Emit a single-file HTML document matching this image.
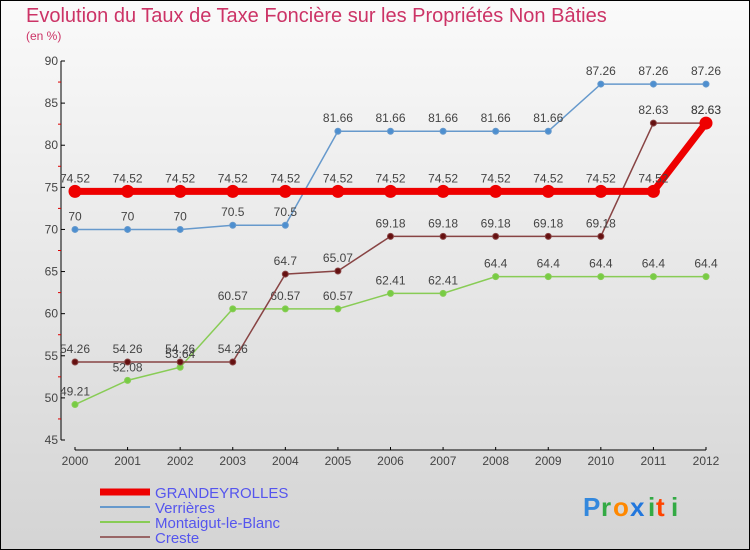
<!DOCTYPE html>
<html><head><meta charset="utf-8"><style>
body{margin:0}
svg{display:block;font-family:"Liberation Sans",sans-serif}
</style></head><body>
<svg width="750" height="550" viewBox="0 0 750 550" xmlns="http://www.w3.org/2000/svg">
<defs><linearGradient id="bg" x1="0" y1="0" x2="0" y2="1"><stop offset="0" stop-color="#fafafa"/><stop offset="1" stop-color="#d4d4d4"/></linearGradient></defs>
<rect x="0.5" y="0.5" width="749" height="549" fill="url(#bg)" stroke="#000"/>
<text x="26" y="22" font-size="20" fill="#cc3366">Evolution du Taux de Taxe Foncière sur les Propriétés Non Bâties</text>
<text x="26" y="40" font-size="12" fill="#cc3366">(en %)</text>
<g id="axes"></g>
<g id="series"></g>
<g id="legend"></g>
<g font-size="26" font-weight="bold">
<text x="583" y="516" fill="#3388dd">P</text><text x="601" y="516" fill="#33aa44">r</text><text x="613" y="516" fill="#ff8800">o</text><text x="630" y="516" fill="#2277dd">x</text><text x="648" y="516" fill="#33aa44">i</text><text x="656" y="516" fill="#ff4400">t</text><text x="671" y="516" fill="#33aa44">i</text>
</g>
</svg>
<script>
const years=[2000,2001,2002,2003,2004,2005,2006,2007,2008,2009,2010,2011,2012];
const yTicks=[45,50,55,60,65,70,75,80,85,90];
const grand=[74.52,74.52,74.52,74.52,74.52,74.52,74.52,74.52,74.52,74.52,74.52,74.52,82.63];
const verr=[70,70,70,70.5,70.5,81.66,81.66,81.66,81.66,81.66,87.26,87.26,87.26];
const mont=[49.21,52.08,53.64,60.57,60.57,60.57,62.41,62.41,64.4,64.4,64.4,64.4,64.4];
const creste=[54.26,54.26,54.26,54.26,64.7,65.07,69.18,69.18,69.18,69.18,69.18,82.63,82.63];
const NS="http://www.w3.org/2000/svg";
const xs=i=>75+i*(706-75)/12;
const ys=v=>61+(90-v)*(440-61)/45;
function mk(t,a,p){const e=document.createElementNS(NS,t);for(const k in a)e.setAttribute(k,a[k]);p.appendChild(e);return e;}
const ax=document.getElementById('axes');
let l=mk('line',{x1:61,y1:61,x2:61,y2:440,stroke:'#000'},ax);


l=mk('line',{x1:75,y1:450,x2:706,y2:450,stroke:'#000'},ax);


yTicks.forEach((v,i)=>{
 mk('line',{x1:61,y1:ys(v),x2:65,y2:ys(v),stroke:'#000'},ax);
 if(i<yTicks.length-1) mk('line',{x1:58,y1:ys(v+2.5),x2:61,y2:ys(v+2.5),stroke:'#d00'},ax);
 const t=mk('text',{x:58,y:ys(v)+4,'font-size':12,fill:'#444','text-anchor':'end'},ax);t.textContent=v;
 
 
});
years.forEach((y,i)=>{
 mk('line',{x1:xs(i),y1:447,x2:xs(i),y2:450,stroke:'#000'},ax);
 const t=mk('text',{x:xs(i),y:465,'font-size':12,fill:'#444','text-anchor':'middle'},ax);t.textContent=y;
 
 
});
const sg=document.getElementById('series');
function series(vals,color,dot,w,r,name){
 const g=mk('g',{},sg);
 
 
 mk('polyline',{points:vals.map((v,i)=>xs(i)+','+ys(v)).join(' '),fill:'none',stroke:color,'stroke-width':w},g);
 vals.forEach((v,i)=>{
  const c=mk('circle',{cx:xs(i),cy:ys(v),r:r,fill:dot,stroke:color,'stroke-width':1},g);
  
  
  const t=mk('text',{x:xs(i),y:ys(v)-9,'font-size':12,fill:'#444','text-anchor':'middle'},g);t.textContent=v;
 });
}
series(verr,'#6699cc','#4d8fd0',1.5,3,'series-verrieres');
series(mont,'#88cc55','#77cc44',1.5,3,'series-montaigut');
series(creste,'#884444','#661111',1.5,3,'series-creste');
series(grand,'#ee0000','#ee0000',7,6,'series-grandeyrolles');
const lg=document.getElementById('legend');
[['GRANDEYROLLES','#ee0000',7],['Verrières','#6699cc',2],['Montaigut-le-Blanc','#88cc55',2],['Creste','#996666',2]].forEach((d,i)=>{
 const y=492+i*15;
 const g=mk('g',{},lg);
 
 
 mk('line',{x1:100,y1:y,x2:150,y2:y,stroke:d[1],'stroke-width':d[2]},g);
 const t=mk('text',{x:155,y:y+6,'font-size':15,fill:'#5555ee'},g);t.textContent=d[0];
});
</script>
</body></html>
